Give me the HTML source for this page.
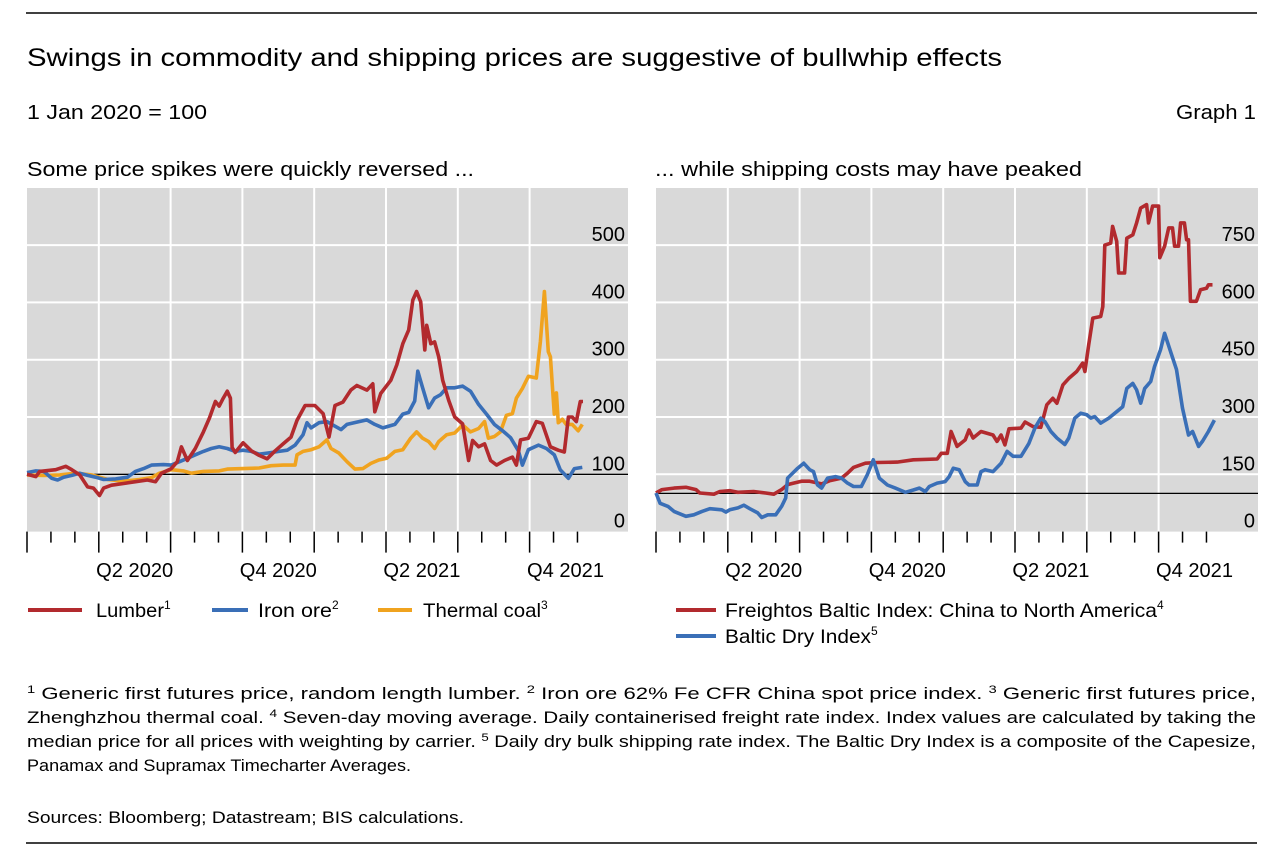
<!DOCTYPE html>
<html><head><meta charset="utf-8">
<style>
body{margin:0;background:#fff;font-family:"Liberation Sans",sans-serif;}
svg text{font-family:"Liberation Sans",sans-serif;fill:#000;}
</style></head>
<body>
<svg id="c" width="1282" height="860" xmlns="http://www.w3.org/2000/svg">
<line x1="26" y1="13" x2="1257" y2="13" stroke="#000" stroke-width="1.5"/>
<text x="27" y="66" font-size="25" textLength="975" lengthAdjust="spacingAndGlyphs">Swings in commodity and shipping prices are suggestive of bullwhip effects</text>
<text x="27" y="119" font-size="20.5" textLength="180" lengthAdjust="spacingAndGlyphs">1 Jan 2020 = 100</text>
<text x="1176" y="119" font-size="20.5" textLength="80" lengthAdjust="spacingAndGlyphs">Graph 1</text>
<text x="27" y="176" font-size="20.5" textLength="447" lengthAdjust="spacingAndGlyphs">Some price spikes were quickly reversed ...</text>
<text x="655" y="176" font-size="20.5" textLength="427" lengthAdjust="spacingAndGlyphs">... while shipping costs may have peaked</text>
<g id="L"></g><g id="R"></g>
<g>
<line x1="28" y1="610" x2="82" y2="610" stroke="#b22a2e" stroke-width="4"/>
<text x="96" y="617" font-size="19.5"><tspan textLength="68" lengthAdjust="spacingAndGlyphs">Lumber</tspan><tspan font-size="12" dy="-8">1</tspan></text>
<line x1="212" y1="610" x2="248" y2="610" stroke="#3a6fb7" stroke-width="4"/>
<text x="258" y="617" font-size="19.5"><tspan textLength="74" lengthAdjust="spacingAndGlyphs">Iron ore</tspan><tspan font-size="12" dy="-8">2</tspan></text>
<line x1="378" y1="610" x2="412" y2="610" stroke="#f0a31f" stroke-width="4"/>
<text x="423" y="617" font-size="19.5"><tspan textLength="118" lengthAdjust="spacingAndGlyphs">Thermal coal</tspan><tspan font-size="12" dy="-8">3</tspan></text>
</g>
<g>
<line x1="676" y1="610" x2="716" y2="610" stroke="#b22a2e" stroke-width="4"/>
<text x="725" y="617" font-size="19.5"><tspan textLength="432" lengthAdjust="spacingAndGlyphs">Freightos Baltic Index: China to North America</tspan><tspan font-size="12" dy="-8">4</tspan></text>
<line x1="676" y1="636" x2="716" y2="636" stroke="#3a6fb7" stroke-width="4"/>
<text x="725" y="643" font-size="19.5"><tspan textLength="146" lengthAdjust="spacingAndGlyphs">Baltic Dry Index</tspan><tspan font-size="12" dy="-8">5</tspan></text>
</g>
<g font-size="16.5">
<text x="27" y="699" textLength="1229" lengthAdjust="spacingAndGlyphs"><tspan font-size="11" dy="-6">1</tspan><tspan dy="6"> Generic first futures price, random length lumber.  </tspan><tspan font-size="11" dy="-6">2</tspan><tspan dy="6"> Iron ore 62% Fe CFR China spot price index.  </tspan><tspan font-size="11" dy="-6">3</tspan><tspan dy="6"> Generic first futures price,</tspan></text>
<text x="27" y="723" textLength="1229" lengthAdjust="spacingAndGlyphs">Zhenghzhou thermal coal.  <tspan font-size="11" dy="-6">4</tspan><tspan dy="6"> Seven-day moving average. Daily containerised freight rate index. Index values are calculated by taking the</tspan></text>
<text x="27" y="747" textLength="1229" lengthAdjust="spacingAndGlyphs">median price for all prices with weighting by carrier.  <tspan font-size="11" dy="-6">5</tspan><tspan dy="6"> Daily dry bulk shipping rate index. The Baltic Dry Index is a composite of the Capesize,</tspan></text>
<text x="27" y="771" textLength="384" lengthAdjust="spacingAndGlyphs">Panamax and Supramax Timecharter Averages.</text>
<text x="27" y="823" textLength="437" lengthAdjust="spacingAndGlyphs">Sources: Bloomberg; Datastream; BIS calculations.</text>
</g>
<line x1="26" y1="843" x2="1257" y2="843" stroke="#000" stroke-width="1.5"/>
</svg>
<script>
// months since 1 Jan 2020
const lumberT=[0,0.37,0.53,1.2,1.62,1.87,2.2,2.53,2.78,3.03,3.2,3.53,4.03,4.53,5.03,5.37,5.62,6.03,6.28,6.45,6.7,7.03,7.37,7.62,7.87,8.03,8.2,8.37,8.5,8.57,8.7,9.03,9.37,9.7,10.03,10.37,10.7,11.03,11.28,11.62,12.03,12.37,12.62,12.87,13.2,13.53,13.78,14.2,14.45,14.53,14.78,15.2,15.45,15.7,15.95,16.12,16.28,16.45,16.62,16.7,16.87,17.03,17.2,17.37,17.62,17.87,18.2,18.45,18.62,18.87,19.12,19.37,19.62,19.95,20.28,20.45,20.62,20.95,21.28,21.53,21.87,22.2,22.45,22.62,22.78,22.95,23.12,23.23];
const lumberV=[100,96,105,108,114,108,99,78,76,63,76,81,84,87,90,87,102,110,122,148,124,145,174,198,227,219,233,245,233,147,138,155,141,133,127,141,153,165,194,220,220,206,165,220,226,247,255,247,258,209,241,264,291,328,352,404,419,401,317,360,328,331,305,264,229,200,188,124,159,148,153,124,116,124,130,116,160,163,192,189,148,142,139,200,200,192,227,227];
const ironT=[0,0.37,0.7,1.03,1.28,1.53,1.87,2.2,2.53,2.87,3.2,3.7,4.2,4.53,4.87,5.2,5.7,6.03,6.37,6.7,7.03,7.37,7.7,8.03,8.37,8.7,9.03,9.37,9.7,10.03,10.53,10.87,11.2,11.53,11.7,11.87,12.2,12.53,12.87,13.12,13.37,13.87,14.2,14.53,14.87,15.37,15.7,15.95,16.2,16.33,16.53,16.78,17.03,17.28,17.53,17.87,18.2,18.53,18.87,19.2,19.53,19.87,20.2,20.53,20.7,20.95,21.37,21.7,22.03,22.28,22.62,22.87,23.2];
const ironV=[103,106,105,93,90,95,98,102,98,95,91,92,95,105,110,116,117,116,122,128,134,140,145,148,145,140,142,140,135,137,140,142,151,169,190,181,190,192,184,178,187,192,195,187,181,187,205,208,228,280,251,216,233,239,251,251,254,245,222,205,187,176,164,141,116,143,151,145,134,108,93,110,112];
const coalT=[0,0.7,1.37,2.03,2.7,3.37,4.03,4.7,5.2,5.53,6.03,6.53,6.87,7.37,8.03,8.37,9.03,9.7,10.2,10.7,11.2,11.28,11.53,11.87,12.2,12.53,12.7,13.03,13.37,13.7,14.03,14.37,14.7,15.03,15.37,15.7,16.03,16.28,16.53,16.78,17.03,17.2,17.53,17.87,18.2,18.53,18.87,19.12,19.28,19.53,19.78,20.03,20.28,20.45,20.7,20.95,21.28,21.45,21.62,21.78,21.87,22.03,22.12,22.2,22.37,22.53,22.78,23.03,23.2];
const coalV=[99,98,99,102,99,91,88,91,94,102,108,106,102,105,106,109,110,111,115,116,116,134,140,143,148,160,145,137,122,109,110,119,125,128,140,143,163,174,163,157,145,157,169,172,186,174,180,192,163,166,174,203,206,233,250,271,268,332,419,314,305,205,242,190,196,187,187,176,187];
const fbxT=[0,0.25,0.75,1.25,1.67,1.83,2.42,2.67,3.08,3.42,4.08,4.58,4.92,5.25,5.5,5.75,6.08,6.42,6.92,7.25,7.75,8,8.25,8.75,9.25,10.08,10.75,11.75,11.92,12.17,12.33,12.58,12.92,13.08,13.25,13.58,14.08,14.25,14.42,14.58,14.75,15.25,15.42,15.75,16.08,16.33,16.58,16.75,17,17.25,17.58,17.83,17.92,18.08,18.25,18.58,18.67,18.75,19,19.08,19.25,19.33,19.58,19.67,19.92,20.08,20.25,20.5,20.58,20.75,21,21.05,21.25,21.42,21.58,21.67,21.83,21.92,22.08,22.17,22.25,22.33,22.58,22.75,23,23.08,23.25];
const fbxV=[101,110,114,116,110,101,98,105,107,103,105,101,98,110,123,127,132,132,125,133,140,153,168,179,181,182,188,190,205,205,262,223,240,266,245,262,253,236,253,227,269,271,287,275,273,332,349,336,384,401,419,441,419,489,559,563,589,750,755,799,760,677,677,768,777,808,847,856,808,852,852,717,747,795,795,747,747,808,808,764,764,603,603,633,637,646,646];
const bdiT=[0,0.17,0.5,0.75,1.25,1.58,1.92,2.25,2.75,2.92,3.08,3.42,3.67,3.92,4.25,4.42,4.67,5,5.25,5.42,5.5,5.92,6.17,6.42,6.58,6.75,6.92,7.17,7.5,7.75,8,8.25,8.58,8.83,9.08,9.33,9.67,10,10.42,10.75,11,11.25,11.42,11.75,12.08,12.25,12.42,12.67,12.92,13.08,13.42,13.58,13.75,14.08,14.42,14.67,14.92,15.25,15.58,15.83,16.08,16.25,16.5,16.75,17.08,17.25,17.5,17.75,18,18.17,18.33,18.58,18.92,19.25,19.5,19.67,19.92,20.08,20.25,20.42,20.67,20.83,21.08,21.25,21.5,21.75,22,22.25,22.42,22.67,22.83,23.08,23.33];
const bdiV=[101,74,66,53,40,44,53,60,57,51,57,62,69,60,49,37,44,44,66,88,140,166,179,162,157,122,114,140,144,140,127,118,118,149,188,140,122,114,103,109,114,105,118,127,131,144,166,162,131,122,122,157,162,157,179,210,197,197,231,271,297,288,262,245,228,245,297,310,306,297,301,284,297,314,327,375,388,371,336,375,393,432,476,519,471,424,323,253,262,223,236,262,292];
const quarterLabels=["Q2 2020","Q4 2020","Q2 2021","Q4 2021"];
const leftTicks=[0,100,200,300,400,500];
const rightTicks=[0,150,300,450,600,750];

const NS="http://www.w3.org/2000/svg";
function mk(p,tag,a){const e=document.createElementNS(NS,tag);for(const k in a)e.setAttribute(k,a[k]);p.appendChild(e);return e;}
function panel(g,x0,x1,yTop,yBot,max,ticks,refVal,series,side){
  const mw=71.8/3;
  const X=m=>x0+m*mw;
  const Y=v=>yBot-v/max*(yBot-yTop);
  const bg=mk(g,'rect',{x:x0,y:yTop,width:x1-x0,height:yBot-yTop,fill:'#d9d9d9'});
  
  for(let q=1;q<=7;q++){const l=mk(g,'line',{x1:X(q*3),x2:X(q*3),y1:yTop,y2:yBot,stroke:'#fff','stroke-width':2});
    }
  ticks.forEach(t=>{ if(t>0){const l=mk(g,'line',{x1:x0,x2:x1,y1:Y(t),y2:Y(t),stroke:'#fff','stroke-width':2});
    }
    const tx=mk(g,'text',{x:x1-3,y:Y(t)-4,'font-size':20,'text-anchor':'end'});tx.textContent=t;
    });
  const base=mk(g,'line',{x1:x0,x2:x1,y1:Y(refVal),y2:Y(refVal),stroke:'#000','stroke-width':1.3});
  
  for(let m=0;m<=23;m++){const maj=m%3==0;const l=mk(g,'line',{x1:X(m),x2:X(m),y1:yBot,y2:yBot+(maj?21:11),stroke:'#000','stroke-width':1.5});
    }
  quarterLabels.forEach((s,i)=>{const t=mk(g,'text',{x:X(4.5+i*6),y:577,'font-size':20,'text-anchor':'middle',textLength:77,lengthAdjust:'spacingAndGlyphs'});t.textContent=s;
    });
  series.forEach(([T,V,c,n])=>{const d=T.map((t,i)=>(i?'L':'M')+X(t).toFixed(1)+','+Y(V[i]).toFixed(1)).join('');
    const p=mk(g,'path',{d:d,fill:'none',stroke:c,'stroke-width':3.6,'stroke-linejoin':'round'});
    });
}
panel(document.getElementById('L'),27,628,188,531.6,100*343.6/57.3,leftTicks,100,
 [[coalT,coalV,'#f0a31f','thermal-coal-line'],[ironT,ironV,'#3a6fb7','iron-ore-line'],[lumberT,lumberV,'#b22a2e','lumber-line']],'left');
panel(document.getElementById('R'),656,1258,188,531.6,150*343.6/57.3,rightTicks,100,
 [[fbxT,fbxV,'#b22a2e','freightos-line'],[bdiT,bdiV,'#3a6fb7','baltic-dry-line']],'right');
</script>
</body></html>
